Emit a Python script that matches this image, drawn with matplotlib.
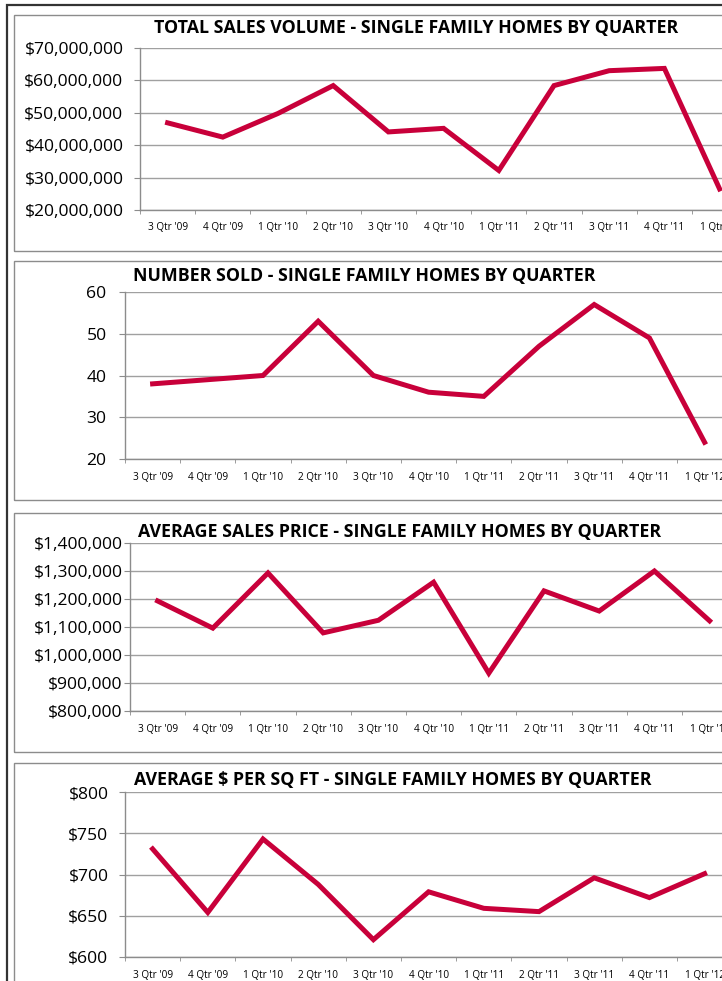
import matplotlib
matplotlib.use("Agg")
import matplotlib.pyplot as plt
from matplotlib.patches import Rectangle
from matplotlib.ticker import FuncFormatter, FixedLocator
import numpy as np

plt.rcParams['font.family'] = ['Open Sans', 'DejaVu Sans']

quarters = ["3 Qtr '09", "4 Qtr '09", "1 Qtr '10", "2 Qtr '10", "3 Qtr '10", "4 Qtr '10",
            "1 Qtr '11", "2 Qtr '11", "3 Qtr '11", "4 Qtr '11", "1 Qtr '12"]

sales_volume = [46.9e6, 42.5e6, 49.8e6, 58.4e6, 44.1e6, 45.2e6, 32.2e6, 58.4e6, 63.0e6, 63.7e6, 26.5e6]
number_sold = [38, 39, 40, 53, 40, 36, 35, 47, 57, 49, 24]
avg_price = [1193000, 1096000, 1293000, 1079000, 1124000, 1260000, 935000, 1229000, 1157000, 1300000, 1122000]
price_sqft = [731, 654, 743, 688, 621, 679, 659, 655, 696, 672, 701]

titles = ["TOTAL SALES VOLUME - SINGLE FAMILY HOMES BY QUARTER",
          "NUMBER SOLD - SINGLE FAMILY HOMES BY QUARTER",
          "AVERAGE SALES PRICE - SINGLE FAMILY HOMES BY QUARTER",
          "AVERAGE $ PER SQ FT - SINGLE FAMILY HOMES BY QUARTER"]

W, H = 722, 981
fig = plt.figure(figsize=(W / 100, H / 100), dpi=100)

def px_rect(x0, y0, x1, y1):
    # pixel box (from top-left) -> figure fraction [l, b, w, h]
    return [x0 / W, 1 - y1 / H, (x1 - x0) / W, (y1 - y0) / H]

# outer frame
fig.patches.append(Rectangle((7 / W, -0.1), 1.0, 1 - 5 / H + 0.1, transform=fig.transFigure,
                             fill=False, edgecolor='#333333', lw=1.6))

# box top, box bottom, axis left, axis top, axis bottom, title x, title y, label gap
panels = [
    (15, 251, 140, 48, 210, 416, 28, 15),
    (261, 500, 125, 292, 459, 364, 276, 17),
    (513, 752, 130, 543, 711, 400, 532, 6),
    (763, 1100, 125, 792, 957, 393, 780, 15),
]
series = [sales_volume, number_sold, avg_price, price_sqft]
limits = [(20e6, 70e6, 10e6), (20, 60, 10), (800000, 1400000, 100000), (600, 800, 50)]
fmts = [lambda v, p: '${:,.0f}'.format(v),
        lambda v, p: '{:.0f}'.format(v),
        lambda v, p: '${:,.0f}'.format(v),
        lambda v, p: '${:,.0f}'.format(v)]

step = 55.2
n = len(quarters)
x = np.arange(n)

for (bt, bb, al, at, ab, tx, ty, gap), vals, (lo, hi, st), fm, title in zip(panels, series, limits, fmts, titles):
    fig.patches.append(Rectangle((14 / W, 1 - bb / H), 1.0, (bb - bt) / H, transform=fig.transFigure,
                                 fill=False, edgecolor='#8c8c8c', lw=1.0))
    ax = fig.add_axes(px_rect(al, at, al + n * step, ab))
    ax.plot(x, vals, color='#C8003A', lw=3.6, solid_joinstyle='miter', clip_on=False)
    ax.set_xlim(-0.5, n - 0.5)
    ax.set_ylim(lo, hi)
    ax.set_yticks(np.arange(lo, hi + st / 2, st))
    ax.yaxis.set_major_formatter(FuncFormatter(fm))
    ax.set_xticks(x)
    ax.set_xticklabels(quarters, fontsize=7.2)
    ax.xaxis.set_minor_locator(FixedLocator(np.arange(-0.5, n, 1.0)))
    ax.tick_params(axis='x', which='major', length=0, pad=9)
    ax.tick_params(axis='x', which='minor', length=3, color='#8c8c8c', direction='out')
    ax.tick_params(axis='y', length=4, color='#8c8c8c', labelsize=12.6, pad=(gap - 4) * 0.72)
    ax.grid(axis='y', color='#a0a0a0', lw=1.0)
    ax.set_axisbelow(True)
    for s in ('top', 'right'):
        ax.spines[s].set_visible(False)
    for s in ('left', 'bottom'):
        ax.spines[s].set_color('#8c8c8c')
        ax.spines[s].set_linewidth(1.0)
    fig.text(tx / W, 1 - ty / H, title, ha='center', va='center', fontsize=12.8, fontweight='bold')

fig.savefig('out.png', dpi=100)
